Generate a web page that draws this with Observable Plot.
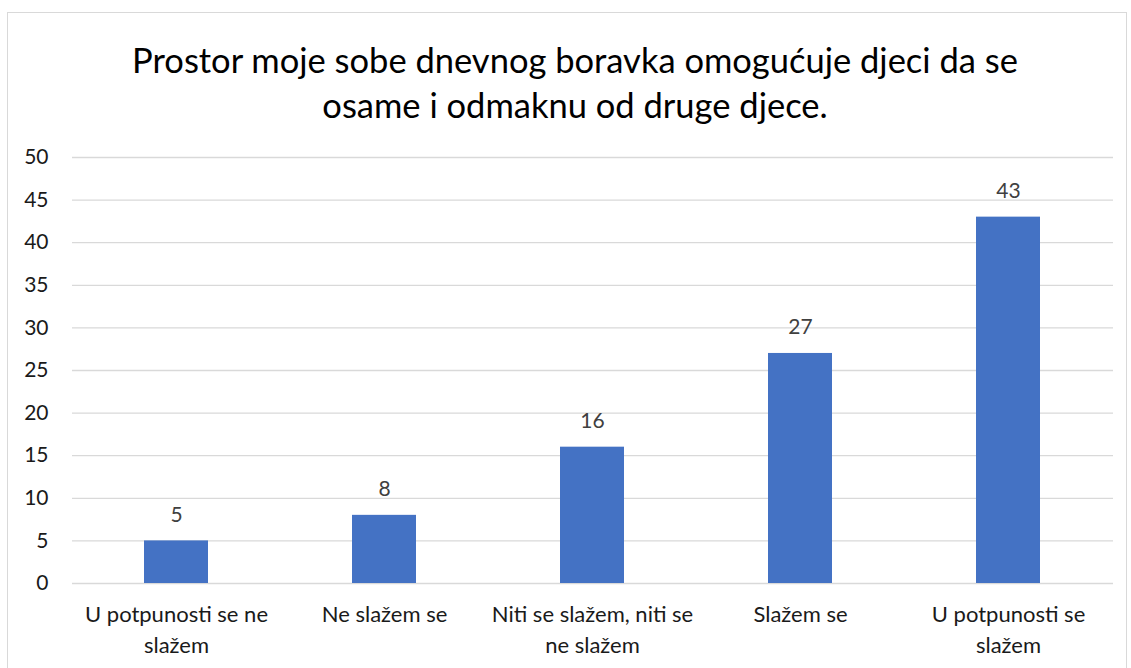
<!DOCTYPE html>
<html>
<head>
<meta charset="utf-8">
<script src="https://cdn.jsdelivr.net/npm/d3@7"></script>
<script src="https://cdn.jsdelivr.net/npm/@observablehq/plot@0.6"></script>
<style>
  html, body { margin: 0; padding: 0; background: #fff; }
  body { width: 1131px; height: 668px; overflow: hidden; position: relative; font-family: Lato, "Open Sans", sans-serif; }
  #frame { position: absolute; left: 7px; top: 12px; width: 1120px; height: 670px; border: 1px solid #d9d9d9; box-sizing: border-box; }
  #title { position: absolute; left: 0; top: 37px; width: 1150px; text-align: center; font-size: 34.5px; line-height: 45px; color: #000; }
  #chart { position: absolute; left: 0; top: 140px; }
</style>
</head>
<body>
<div id="frame"></div>
<div id="title">Prostor moje sobe dnevnog boravka omogućuje djeci da se<br>osame i odmaknu od druge djece.</div>
<div id="chart"></div>
<script>
const categories = [
  "U potpunosti se ne\nslažem",
  "Ne slažem se",
  "Niti se slažem, niti se\nne slažem",
  "Slažem se",
  "U potpunosti se\nslažem"
];
const values = [5, 8, 16, 27, 43];
const yTicks = [0, 5, 10, 15, 20, 25, 30, 35, 40, 45, 50];

const data = categories.map((c, i) => ({ category: c, value: values[i] }));

const chart = Plot.plot({
  width: 1131,
  height: 528,
  marginLeft: 72,
  marginRight: 18,
  marginTop: 17,
  marginBottom: 85,
  style: { fontFamily: "Lato, 'Open Sans', sans-serif", background: "transparent" },
  x: { domain: categories, paddingInner: 0.69, paddingOuter: 0.345, label: null },
  y: { domain: [0, 50], ticks: yTicks, label: null },
  marks: [
    Plot.ruleY(yTicks, { stroke: "#d9d9d9", strokeWidth: 1.3 }),
    Plot.barY(data, { x: "category", y: "value", fill: "#4472c4" }),
    Plot.text(data, { x: "category", y: "value", text: d => String(d.value), dy: -26, fontSize: 21, fill: "#404040" }),
    Plot.axisY({ ticks: yTicks, tickSize: 0, tickPadding: 24, fontSize: 21, fill: "#1a1a1a", label: null }),
    Plot.axisX({ tickSize: 0, tickPadding: 16, fontSize: 22, fill: "#1a1a1a", lineHeight: 1.42, label: null, lineAnchor: "top" })
  ]
});
document.getElementById("chart").appendChild(chart);
</script>
</body>
</html>
